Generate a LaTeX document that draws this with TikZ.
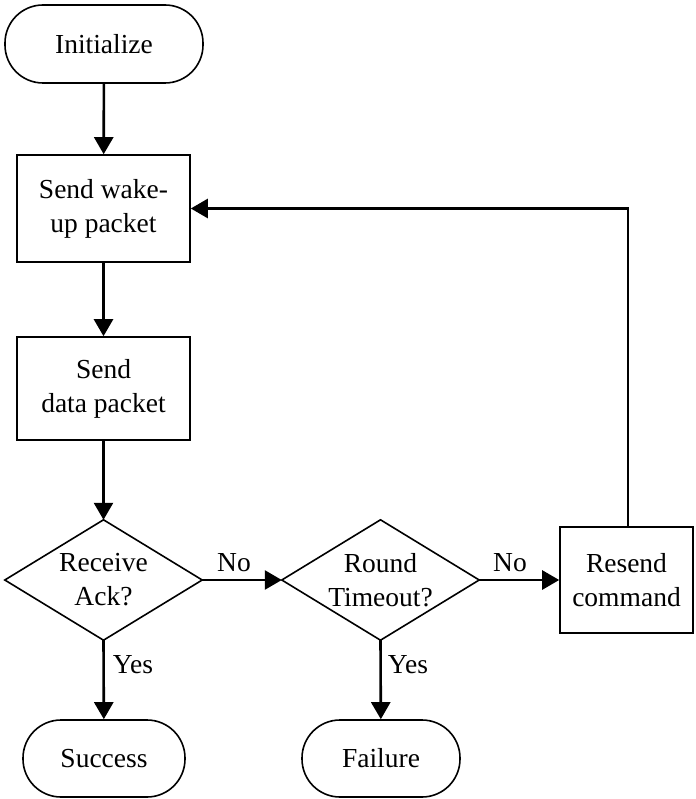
\documentclass[tikz,border=0pt]{standalone}
\usepackage{fontspec}
\setmainfont{Liberation Serif}
\usetikzlibrary{arrows.meta}
\begin{document}
\begin{tikzpicture}[x=1pt,y=-1pt,
  every node/.style={font=\fontsize{27.5}{34}\selectfont, align=center, inner sep=0pt},
  term/.style={draw, line width=1.6pt, rounded corners=38pt, minimum height=78pt},
  box/.style={draw, line width=1.6pt},
  dia/.style={minimum width=197pt, minimum height=120pt},
  flow/.style={line width=2.6pt, -{Triangle[length=17pt,width=19pt]}},
  lbl/.style={}]
\path[use as bounding box] (0,0) rectangle (695,799);
\node[term, minimum width=198pt] (init) at (104,44) {Initialize};
\node[box, minimum width=173pt, minimum height=107pt] (wake) at (103.5,208.5) {Send wake-\\up packet};
\node[box, minimum width=173pt, minimum height=103pt] (data) at (103.5,388.5) {Send\\data packet};
\node[dia] (ack) at (103.5,580) {Receive\\Ack?};
\draw[line width=1.6pt] (ack.west) -- (ack.north) -- (ack.east) -- (ack.south) -- cycle;
\node[dia] (tmo) at (380.5,580) {Round\\Timeout?};
\draw[line width=1.6pt] (tmo.west) -- (tmo.north) -- (tmo.east) -- (tmo.south) -- cycle;
\node[box, minimum width=133pt, minimum height=106pt] (resend) at (626.5,580) {Resend\\command};
\node[term, minimum width=162pt, minimum height=77pt] (succ) at (104,758.5) {Success};
\node[term, minimum width=158pt, minimum height=77pt] (fail) at (381,758.5) {Failure};
\draw[flow] (init) -- (wake);
\draw[flow] (wake) -- (data);
\draw[flow] (data) -- (ack.north);
\draw[flow] (ack.east) -- (tmo.west);
\draw[flow] (tmo.east) -- (resend);
\draw[flow] (ack.south) -- (succ);
\draw[flow] (tmo.south) -- (fail);
\coordinate (fb) at (628,527);
\draw[flow] (fb) |- (wake.east);
\node[lbl] (no1) at (234,563) {No};
\node[lbl] (no2) at (510,563) {No};
\node[lbl] (yes1) at (133,665) {Yes};
\node[lbl] (yes2) at (408,665) {Yes};
\end{tikzpicture}
\end{document}
